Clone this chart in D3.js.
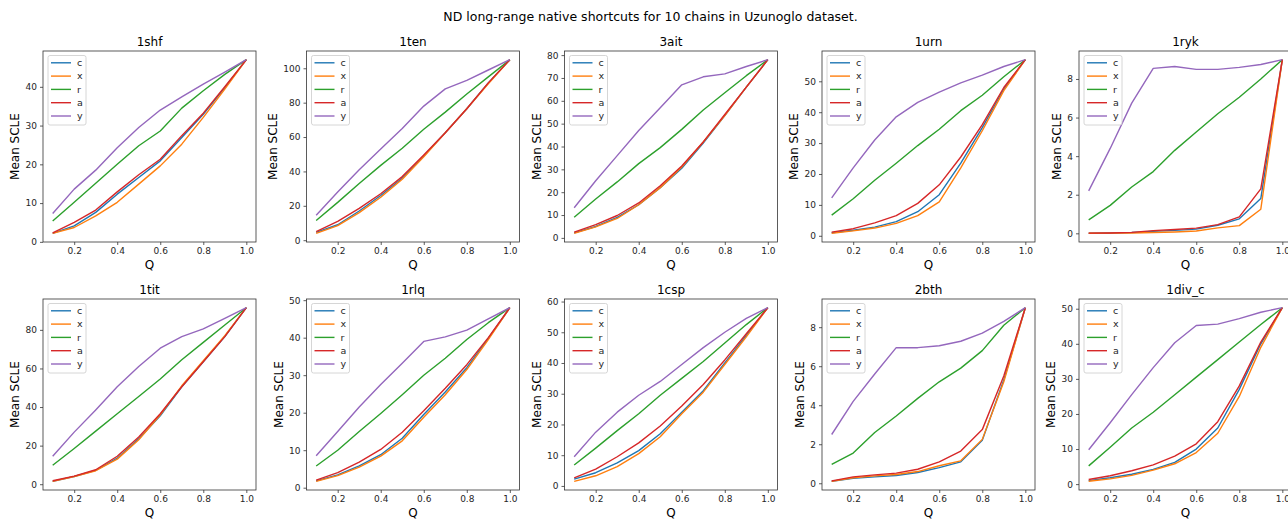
<!DOCTYPE html>
<html>
<head>
<meta charset="utf-8">
<script src="https://cdn.jsdelivr.net/npm/d3@7"></script>
<style>
  body { margin: 0; background: #fff; }
  text { font-family: "DejaVu Sans", sans-serif; }
</style>
</head>
<body>
<div id="chart"></div>
<script>
// Q values on the x axis, shared by every panel
var qValues = [0.1, 0.2, 0.3, 0.4, 0.5, 0.6, 0.7, 0.8, 0.9, 1.0];
var xTicks = [0.2, 0.4, 0.6, 0.8, 1.0];
var seriesNames = ["c", "x", "r", "a", "y"];
var chainNames = ["1shf", "1ten", "3ait", "1urn", "1ryk", "1tit", "1rlq", "1csp", "2bth", "1div_c"];

// mean SCLE per series
var d1shf = {
    c: [2.2, 4.1, 7.6, 12.3, 16.6, 20.9, 26.9, 32.9, 39.8, 47],
    x: [2.2, 3.7, 6.7, 10.2, 14.9, 19.6, 25.2, 32.1, 39.4, 47],
    r: [5.4, 10.2, 15.1, 20.0, 24.8, 28.6, 34.5, 39.0, 43.2, 47],
    a: [2.3, 5.0, 8.2, 12.9, 17.3, 21.3, 27.4, 33.2, 40.0, 47],
    y: [7.3, 13.6, 18.5, 24.3, 29.5, 34.0, 37.4, 40.7, 43.8, 47]
};
var d1ten = {
    c: [4.5, 9, 17, 26, 36, 49, 62.5, 76.5, 91.5, 105],
    x: [4, 8.5, 16, 25, 35.5, 48.5, 62.5, 76.5, 91, 105],
    r: [11.5, 22, 33, 43.5, 53.5, 64.5, 74.5, 85, 95, 105],
    a: [5, 11, 18.5, 27, 37, 49.5, 62.5, 76.5, 91.5, 105],
    y: [14.5, 28, 41, 53, 65, 78, 88, 93, 99, 105]
};
var d3ait = {
    c: [2.2, 5, 9, 14.5, 22, 30.5, 41.5, 53.5, 66, 78],
    x: [2, 4.8, 8.5, 14.5, 22, 31, 42, 53.5, 66, 78],
    r: [9, 17, 24.5, 32.5, 39.5, 47.5, 56, 63.5, 71, 78],
    a: [2.5, 5.8, 9.8, 15.3, 22.8, 31.5, 42, 54, 66, 78],
    y: [13.2, 25, 36, 47, 57, 67, 70.5, 71.8, 75, 78]
};
var d1urn = {
    c: [1, 1.8, 2.8, 4.6, 7.8, 13.3, 23.5, 35, 47.5, 57],
    x: [0.8, 1.6, 2.5, 4, 6.5, 11, 22, 34, 47, 57],
    r: [6.7, 12, 18, 23.5, 29.2, 34.5, 40.5, 45.5, 51.5, 57],
    a: [1.2, 2.3, 4.2, 6.5, 10.5, 16.5, 25.5, 36, 48, 57],
    y: [12.3, 22, 31, 38.5, 43.2, 46.5, 49.5, 52, 54.8, 57]
};
var d1ryk = {
    c: [0.0, 0.02, 0.04, 0.1, 0.15, 0.22, 0.42, 0.75, 1.8, 9.0],
    x: [0.0, 0.01, 0.02, 0.04, 0.07, 0.12, 0.28, 0.4, 1.25, 9.0],
    r: [0.7, 1.45, 2.4, 3.2, 4.3, 5.25, 6.2, 7.05, 8.0, 9.0],
    a: [0.01, 0.02, 0.05, 0.14, 0.2, 0.27, 0.45, 0.85, 2.3, 9.0],
    y: [2.2, 4.4, 6.75, 8.55, 8.65, 8.5, 8.5, 8.6, 8.75, 9.0]
};
var d1tit = {
    c: [1.5, 4, 7.2, 13.5, 23.5, 35.5, 50.5, 63.5, 76.5, 91.5],
    x: [1.5, 4, 7, 13, 23, 36, 51, 64, 77, 91.5],
    r: [9.8, 18.5, 27.5, 36.5, 45.5, 54.5, 64.5, 73.5, 82.5, 91.5],
    a: [1.8, 4.2, 7.5, 14.5, 24.5, 36.5, 50.5, 63.5, 76.5, 91.5],
    y: [14.5, 27, 38.5, 50.5, 61, 70.5, 76.5, 80.5, 86, 91.5]
};
var d1rlq = {
    c: [1.8, 3.4, 5.8, 8.8, 13.2, 19.5, 25.5, 32, 39.8, 48],
    x: [1.7, 3.2, 5.5, 8.4, 12.5, 18.8, 24.8, 31.5, 39.5, 48],
    r: [5.8, 10, 15, 19.8, 24.8, 30, 34.5, 39.5, 44, 48],
    a: [2.0, 4.0, 6.8, 10.2, 14.8, 20.5, 26.5, 32.8, 40, 48],
    y: [8.5, 15, 21.5, 27.5, 33.2, 39, 40.2, 42, 45, 48]
};
var d1csp = {
    c: [2.2, 4.3, 7.5, 11.5, 17, 24, 31, 40, 49, 58],
    x: [1.5, 3.3, 6.3, 10.5, 16, 23.5, 30.5, 39.5, 48.5, 58],
    r: [6.8, 12.3, 18, 23.5, 29.5, 35, 40.5, 46.5, 52.5, 58],
    a: [2.6, 5.5, 9.5, 14, 19.5, 26, 33, 41, 49.5, 58],
    y: [9.5, 17.5, 24, 29.5, 34, 39.5, 45, 50, 54.5, 58]
};
var d2bth = {
    c: [0.1, 0.25, 0.33, 0.4, 0.55, 0.8, 1.1, 2.2, 5.3, 9.0],
    x: [0.1, 0.28, 0.38, 0.45, 0.6, 0.9, 1.15, 2.25, 5.2, 9.0],
    r: [0.97, 1.55, 2.6, 3.45, 4.35, 5.2, 5.9, 6.8, 8.1, 9.0],
    a: [0.12, 0.33, 0.43, 0.52, 0.72, 1.1, 1.65, 2.75, 5.5, 9.0],
    y: [2.5, 4.2, 5.6, 6.95, 6.95, 7.05, 7.28, 7.7, 8.3, 9.0]
};
var d1div_c = {
    c: [1, 1.8, 2.8, 4.2, 6.2, 10, 16, 27, 40, 50.3],
    x: [0.8, 1.5, 2.5, 4, 5.8, 9, 14.5, 25, 39, 50.3],
    r: [5.2, 10.5, 16, 20.5, 25.5, 30.5, 35.5, 40.5, 45.5, 50.3],
    a: [1.3, 2.4, 3.8, 5.5, 8, 11.5, 17.8, 28, 40.5, 50.3],
    y: [9.8, 17.5, 25.5, 33.2, 40.3, 45.2, 45.6, 47.2, 49, 50.3]
};
var chainData = [d1shf, d1ten, d3ait, d1urn, d1ryk, d1tit, d1rlq, d1csp, d2bth, d1div_c];

// y tick labels per panel
var yTicks = [
    [0, 10, 20, 30, 40],
    [0, 20, 40, 60, 80, 100],
    [0, 10, 20, 30, 40, 50, 60, 70, 80],
    [0, 10, 20, 30, 40, 50],
    [0, 2, 4, 6, 8],
    [0, 20, 40, 60, 80],
    [0, 10, 20, 30, 40, 50],
    [0, 10, 20, 30, 40, 50, 60],
    [0, 2, 4, 6, 8],
    [0, 10, 20, 30, 40, 50]
];

var colors = {c: "#1f77b4", x: "#ff7f0e", r: "#2ca02c", a: "#d62728", y: "#9467bd"};

// figure layout
var totalW = 1288, totalH = 519;
var panelLeft = [43, 306.5, 564.5, 822, 1079];
var panelTop = [51, 299];
var width = 213, height = 191;

var svg = d3.select("#chart")
    .append("svg")
    .attr("width", totalW)
    .attr("height", totalH);

svg.append("text")
    .attr("x", 650.5)
    .attr("y", 21)
    .attr("text-anchor", "middle")
    .style("font-size", "12.5px")
    .text("ND long-range native shortcuts for 10 chains in Uzunoglo dataset.");

chainNames.forEach(function(name, i) {
    var col = i % 5, row = Math.floor(i / 5);
    var data = chainData[i];
    var g = svg.append("g")
        .attr("transform", "translate(" + panelLeft[col] + "," + panelTop[row] + ")");

    // matplotlib style 5% margins
    var all = d3.merge(seriesNames.map(function(s) { return data[s]; }));
    var ext = d3.extent(all), pad = (ext[1] - ext[0]) * 0.05;
    var xPad = (qValues[qValues.length - 1] - qValues[0]) * 0.05;

    var x = d3.scaleLinear()
        .domain([qValues[0] - xPad, qValues[qValues.length - 1] + xPad])
        .range([0, width]);
    var y = d3.scaleLinear()
        .domain([ext[0] - pad, ext[1] + pad])
        .range([height, 0]);

    // x axis
    var xa = g.append("g")
        .attr("transform", "translate(0," + height + ")")
        .call(d3.axisBottom(x).tickValues(xTicks).tickFormat(d3.format(".1f"))
            .tickSize(3).tickPadding(3));
    // y axis
    var ya = g.append("g")
        .call(d3.axisLeft(y).tickValues(yTicks[i]).tickFormat(d3.format("d"))
            .tickSize(3).tickPadding(3));
    [xa, ya].forEach(function(a) {
        a.select(".domain").remove();
        a.selectAll("line").attr("stroke", "#333").attr("stroke-width", 0.8);
        a.selectAll("text")
            .style("font-family", "'DejaVu Sans', sans-serif")
            .style("font-size", "9px")
            .attr("fill", "#262626");
    });

    // lines
    var line = d3.line()
        .x(function(d, j) { return x(qValues[j]); })
        .y(function(d) { return y(d); });
    seriesNames.forEach(function(s) {
        g.append("path")
            .datum(data[s])
            .attr("fill", "none")
            .attr("stroke", colors[s])
            .attr("stroke-width", 1.4)
            .attr("stroke-linejoin", "round")
            .attr("d", line);
    });

    // frame
    g.append("rect")
        .attr("width", width)
        .attr("height", height)
        .attr("fill", "none")
        .attr("stroke", "#333")
        .attr("stroke-width", 0.8);

    // legend
    var lg = g.append("g").attr("transform", "translate(5,4.5)");
    lg.append("rect")
        .attr("width", 38)
        .attr("height", 69.5)
        .attr("rx", 2)
        .attr("fill", "#fff")
        .attr("fill-opacity", 0.8)
        .attr("stroke", "#ccc")
        .attr("stroke-width", 0.8);
    seriesNames.forEach(function(s, k) {
        var ly = 7.3 + k * 13.3;
        lg.append("line")
            .attr("x1", 3).attr("x2", 23)
            .attr("y1", ly).attr("y2", ly)
            .attr("stroke", colors[s])
            .attr("stroke-width", 1.4);
        lg.append("text")
            .attr("x", 29)
            .attr("y", ly)
            .attr("dy", "0.35em")
            .style("font-size", "9.5px")
            .attr("fill", "#262626")
            .text(s);
    });

    // titles and labels
    g.append("text")
        .attr("x", width / 2)
        .attr("y", -5.5)
        .attr("text-anchor", "middle")
        .style("font-size", "12px")
        .text(name);

    g.append("text")
        .attr("x", width / 2)
        .attr("y", height + 27)
        .attr("text-anchor", "middle")
        .style("font-size", "12px")
        .text("Q");

    var maxW = d3.max(ya.selectAll("text").nodes(), function(n) { return n.getBBox().width; });
    g.append("text")
        .attr("transform", "rotate(-90)")
        .attr("x", -height / 2)
        .attr("y", -(3 + 3 + maxW + 3.3 + 2.8))
        .attr("text-anchor", "middle")
        .style("font-size", "12px")
        .text("Mean SCLE");
});
</script>
</body>
</html>
